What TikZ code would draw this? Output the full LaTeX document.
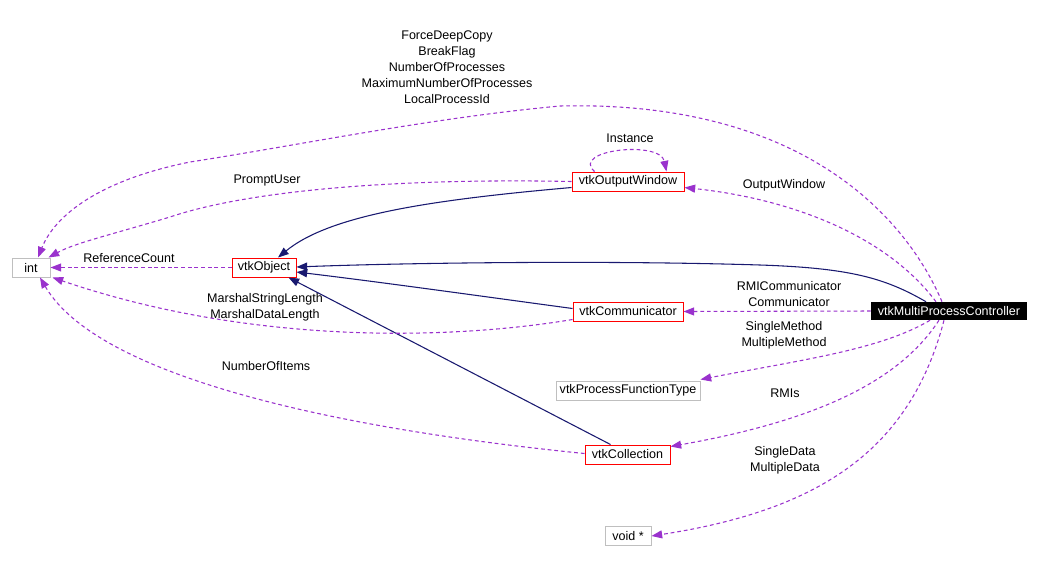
\documentclass[tikz,border=0pt]{standalone}
\usepackage{fontspec}
\setmainfont{Liberation Sans}
\usetikzlibrary{arrows.meta,calc}
\definecolor{edgepurple}{HTML}{9A32CD}
\definecolor{edgenavy}{HTML}{191970}
\definecolor{boxgray}{HTML}{BFBFBF}
\begin{document}
\begin{tikzpicture}[x=0.75pt,y=-0.75pt,
  font=\fontsize{9.4}{12}\selectfont,
  cls/.style={draw=red,line width=0.75pt,inner sep=0pt,minimum height=14.25pt,fill=white},
  ext/.style={draw=boxgray,line width=0.75pt,inner sep=0pt,minimum height=14.25pt,fill=white},
  main/.style={fill=black,text=white,inner sep=0pt,minimum height=13.5pt},
  use/.style={draw=edgepurple,line width=0.8pt,dash pattern=on 2.8pt off 2.2pt,
     -{Triangle[length=8pt,width=6pt,fill=edgepurple]}},
  inh/.style={draw=edgenavy,line width=0.8pt,
     -{Triangle[length=8pt,width=6pt,fill=edgenavy]}},
  lbl/.style={align=center,inner sep=0pt,font=\fontsize{9.4}{12}\selectfont}]
\useasboundingbox[fill=white] (0,0) rectangle (1040,562);

% nodes
\node[ext,minimum width=28.5pt] (int) at (31,267.5) {int};
\node[cls,minimum width=48pt] (obj) at (264,267.5) {vtkObject};
\node[cls,minimum width=84pt] (ow) at (628,181.5) {vtkOutputWindow};
\node[cls,minimum width=82.5pt] (comm) at (628,311.5) {vtkCommunicator};
\node[main,minimum width=117pt] (mpc) at (949,311) {vtkMultiProcessController};
\node[ext,minimum width=108pt] (pft) at (628,390.5) {vtkProcessFunctionType};
\node[cls,minimum width=63.75pt] (coll) at (627.5,454.5) {vtkCollection};
\node[ext,minimum width=34.5pt] (void) at (628,536) {void *};

% coordinates on the boxes
\coordinate (mpcT1) at ($(mpc.north)+(-7,0)$);
\coordinate (mpcT2) at ($(mpc.north)+(-13,0)$);
\coordinate (mpcT3) at ($(mpc.north)+(-23,0)$);
\coordinate (mpcB1) at ($(mpc.south)+(-19,0)$);
\coordinate (mpcB2) at ($(mpc.south)+(-10,0)$);
\coordinate (mpcB3) at ($(mpc.south)+(-5,0)$);

% labels
\node[lbl] (lblTop) at (447,67) {ForceDeepCopy\\BreakFlag\\NumberOfProcesses\\MaximumNumberOfProcesses\\LocalProcessId};
\node[lbl] (lblInst) at (630,138) {Instance};
\node[lbl] (lblPU) at (267,180) {PromptUser};
\node[lbl] (lblOW) at (784,185) {OutputWindow};
\node[lbl] (lblRC) at (129,258) {ReferenceCount};
\node[lbl] (lblMS) at (265,307) {MarshalStringLength\\MarshalDataLength};
\node[lbl] (lblRMC) at (789,294) {RMICommunicator\\Communicator};
\node[lbl] (lblSM) at (784,335) {SingleMethod\\MultipleMethod};
\node[lbl] (lblNI) at (266,366) {NumberOfItems};
\node[lbl] (lblRMI) at (785,393) {RMIs};
\node[lbl] (lblSD) at (785,460) {SingleData\\MultipleData};

% inheritance edges
\draw[inh] ($(ow.west)+(0,6)$) .. controls (430,200) and (330,215) .. ($(obj.north)+(14,0)$);
\draw[inh] (mpcT3) .. controls (885,278) and (850,268) .. (760,265) .. controls (600,260) and (400,263) .. ($(obj.east)+(0,-0.5)$);
\draw[inh] ($(comm.west)+(0,-3)$) .. controls (480,296) and (380,282) .. ($(obj.east)+(0,4.5)$);
\draw[inh] ($(coll.north)+(-17,0)$) -- ($(obj.south east)+(-8,0)$);

% usage edges
\draw[use] (mpcT1) .. controls (905,215) and (800,100) .. (560,106)
   .. controls (430,118) and (300,145) .. (190,162)
   .. controls (100,180) and (55,215) .. ($(int.north)+(7,0)$);
\draw[use] (ow.west) .. controls (400,178) and (250,190) .. (170,217)
   .. controls (110,235) and (75,243) .. ($(int.north east)+(-2,0)$);
\draw[use] ($(ow.north west)+(23,0)$) .. controls (570,150) and (660,140) .. ($(ow.north east)+(-18,0)$);
\draw[use] (obj.west) -- (int.east);
\draw[use] ($(comm.west)+(0,8)$) .. controls (450,340) and (250,345) .. ($(int.south east)+(2,0)$);
\draw[use] ($(coll.west)+(0,-1)$) .. controls (350,430) and (100,380) .. ($(int.south)+(9,0)$);
\draw[use] (mpcT2) .. controls (890,240) and (800,200) .. ($(ow.east)+(0,6)$);
\draw[use] (mpc.west) -- (comm.east);
\draw[use] (mpcB1) .. controls (880,350) and (800,360) .. ($(pft.north east)+(0,-1)$);
\draw[use] (mpcB2) .. controls (900,380) and (820,420) .. ($(coll.north east)+(0,2)$);
\draw[use] (mpcB3) .. controls (910,450) and (820,510) .. (void.east);
\end{tikzpicture}
\end{document}
